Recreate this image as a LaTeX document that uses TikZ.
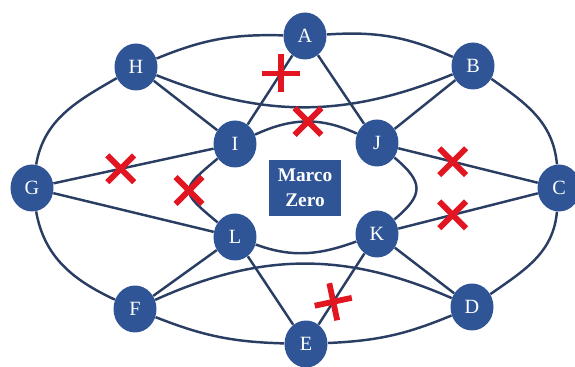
\documentclass[tikz,border=0pt]{standalone}
\usepackage{fontspec}
\setmainfont{Liberation Serif}
\usetikzlibrary{shapes.geometric,shapes.misc}

\definecolor{stopblue}{RGB}{47,85,151}
\definecolor{linkblue}{RGB}{42,61,99}
\definecolor{cutred}{RGB}{225,22,32}

\begin{document}
\begin{tikzpicture}[x=0.02cm,y=0.02cm,
        stop/.style={ellipse,fill=stopblue,text=white,inner sep=0pt,
                minimum width=0.86cm,minimum height=0.94cm,
                font=\fontsize{11.5}{13}\selectfont},
        link/.style={draw=linkblue,line width=1.4pt},
        cut/.style={cross out,draw=cutred,line width=3.3pt,
                minimum size=0.42cm,inner sep=0pt},
        closed/.style={cut,rotate=45}]

                \useasboundingbox (0,0) rectangle (575,-367);

                \node[stop] (A) at (305,-36) {A};

                \node[stop] (B) at (473,-66) {B};

                \node[stop] (C) at (559,-188) {C};

                \node[stop] (D) at (472,-307) {D};

                \node[stop] (E) at (306,-344) {E};

                \node[stop] (F) at (135,-309) {F};

                \node[stop] (G) at (32,-188) {G};

                \node[stop] (H) at (136,-67) {H};

                \node[stop] (I) at (235,-144) {I};

                \node[stop] (J) at (377,-143) {J};

                \node[stop] (K) at (377,-234) {K};

                \node[stop] (L) at (235,-237) {L};

                \node[fill=stopblue,text=white,minimum width=1.46cm,minimum height=1.14cm,
                      align=center,font=\bfseries\fontsize{11}{14.5}\selectfont] (mz) at (305,-188) {Marco\\Zero};

                % outer ring
                \path[link] (H) edge [bend left=12] (A)
                            (A) edge [bend left=14] (B)
                            (B) edge [out=-35,in=95] (C)
                            (C) edge [out=-95,in=35] (D)
                            (D) edge [bend left=10] (E)
                            (E) edge [bend left=10] (F)
                            (F) edge [out=155,in=-80] (G)
                            (G) edge [out=80,in=-150] (H)
                            (H) edge [bend right=22] (B)
                            (F) edge [bend left=24] (D);

                % inner ring
                \path[link] (I) edge [out=25,in=155] node[cut,pos=0.52] {} (J)
                            (J) edge [out=-40,in=40,looseness=1.6] (K)
                            (K) edge [out=-160,in=-20] (L)
                            (I) edge [out=-140,in=140,looseness=2] node[cut] {} (L);

                % spokes
                \path[link] (A) edge node[closed,pos=0.26] {} (I)
                                edge (J)
                            (B) edge (J)
                            (H) edge (I)
                            (G) edge node[cut,pos=0.42] {} (I)
                                edge (L)
                            (C) edge node[cut,pos=0.61] {} (J)
                                edge node[cut,pos=0.61] {} (K)
                            (K) edge (D)
                                edge node[closed,rotate=12,pos=0.68] {} (E)
                            (L) edge (F)
                                edge (E);

            \end{tikzpicture}
\end{document}
